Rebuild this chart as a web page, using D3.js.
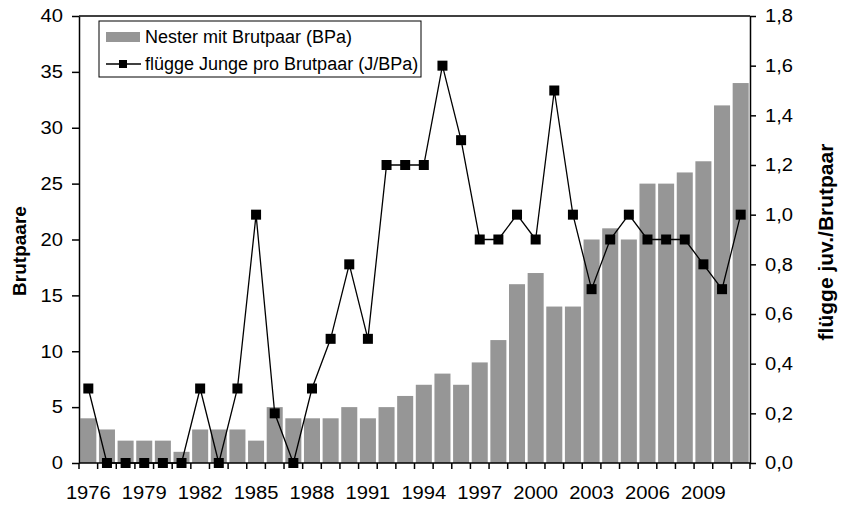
<!DOCTYPE html>
<html>
<head>
<meta charset="utf-8">
<script src="https://d3js.org/d3.v7.min.js"></script>
<style>
	body { margin: 0; background: #fff; }
	text { font-family: "Liberation Sans", Arial, sans-serif; fill: #000; }
</style>
</head>
<body>
<script>

	var years = [1976, 1977, 1978, 1979, 1980, 1981, 1982, 1983, 1984, 1985, 1986, 1987,
		1988, 1989, 1990, 1991, 1992, 1993, 1994, 1995, 1996, 1997, 1998, 1999,
		2000, 2001, 2002, 2003, 2004, 2005, 2006, 2007, 2008, 2009, 2010, 2011];
	// Nester mit Brutpaar (BPa)
	var nester = [4, 3, 2, 2, 2, 1, 3, 3, 3, 2, 5, 4,
		4, 4, 5, 4, 5, 6, 7, 8, 7, 9, 11, 16,
		17, 14, 14, 20, 21, 20, 25, 25, 26, 27, 32, 34];
	// flügge Junge pro Brutpaar (J/BPa)
	var junge = [0.3, 0, 0, 0, 0, 0, 0.3, 0, 0.3, 1.0, 0.2, 0,
		0.3, 0.5, 0.8, 0.5, 1.2, 1.2, 1.2, 1.6, 1.3, 0.9, 0.9, 1.0,
		0.9, 1.5, 1.0, 0.7, 0.9, 1.0, 0.9, 0.9, 0.9, 0.8, 0.7, 1.0];
	var yearLabels = [1976, 1979, 1982, 1985, 1988, 1991, 1994, 1997, 2000, 2003, 2006, 2009];
	var leftTicks = [0, 5, 10, 15, 20, 25, 30, 35, 40];
	var rightTicks = [0, 0.2, 0.4, 0.6, 0.8, 1.0, 1.2, 1.4, 1.6, 1.8];
	var legendLabels = ["Nester mit Brutpaar (BPa)", "flügge Junge pro Brutpaar (J/BPa)"];

	var w = 848, h = 506;
	var plotL = 79, plotR = 750, plotT = 16, plotB = 463;
	var barColor = "#969696";
	var stretch = 1.12;   // tick labels look wider than tall in the original

	var svg = d3.select("body").append("svg")
		.attr("width", w)
		.attr("height", h);

	var x = d3.scaleBand()
		.domain(years)
		.range([plotL, plotR])
		.paddingInner(0.14)
		.paddingOuter(0.07);

	var yL = d3.scaleLinear().domain([0, 40]).range([plotB, plotT]);
	var yR = d3.scaleLinear().domain([0, 1.8]).range([plotB, plotT]);

	// bars
	svg.selectAll("rect.bar")
		.data(nester)
		.enter()
		.append("rect")
		.attr("class", "bar")
		.attr("x", function(d, i) { return x(years[i]); })
		.attr("y", function(d) { return yL(d); })
		.attr("width", x.bandwidth())
		.attr("height", function(d) { return plotB - yL(d); })
		.attr("fill", barColor);

	// top frame line
	svg.append("line")
		.attr("x1", plotL).attr("x2", plotR)
		.attr("y1", plotT).attr("y2", plotT)
		.attr("stroke", "#000").attr("stroke-width", 1.5);

	function stretchText(sel) {
		sel.each(function() {
			var len = this.getComputedTextLength();
			d3.select(this)
				.attr("textLength", len * stretch)
				.attr("lengthAdjust", "spacingAndGlyphs");
		});
	}

	// left axis
	var gL = svg.append("g")
		.attr("class", "axis")
		.attr("transform", "translate(" + plotL + ",0)")
		.call(d3.axisLeft(yL).tickValues(leftTicks).tickSize(7).tickSizeOuter(0).tickPadding(9));

	// right axis
	var gR = svg.append("g")
		.attr("class", "axis")
		.attr("transform", "translate(" + plotR + ",0)")
		.call(d3.axisRight(yR).tickValues(rightTicks).tickSize(6).tickSizeOuter(0).tickPadding(9)
			.tickFormat(function(d) { return d3.format(".1f")(d).replace(".", ","); }));

	// bottom axis: ticks on band boundaries, labels every third year
	var half = x.step() * x.paddingInner() / 2;
	var bounds = years.map(function(d) { return x(d) - half; });
	bounds.push(x(years[years.length - 1]) + x.bandwidth() + half);

	var gB = svg.append("g")
		.attr("class", "axis")
		.attr("transform", "translate(0," + plotB + ")");
	gB.append("line")
		.attr("x1", plotL).attr("x2", plotR)
		.attr("stroke", "#000").attr("stroke-width", 1.5);
	gB.selectAll("line.tk")
		.data(bounds)
		.enter()
		.append("line")
		.attr("class", "tk")
		.attr("x1", function(d) { return d; })
		.attr("x2", function(d) { return d; })
		.attr("y1", 0).attr("y2", 6)
		.attr("stroke", "#000").attr("stroke-width", 1.5);
	gB.selectAll("text")
		.data(yearLabels)
		.enter()
		.append("text")
		.attr("x", function(d) { return x(d) + x.bandwidth() / 2; })
		.attr("y", 36)
		.attr("text-anchor", "middle")
		.text(function(d) { return d; });

	[gL, gR].forEach(function(g) {
		g.select(".domain").attr("stroke", "#000").attr("stroke-width", 1.5);
		g.selectAll(".tick line").attr("stroke", "#000").attr("stroke-width", 1.5);
	});
	svg.selectAll("g.axis text")
		.style("font-size", "18px")
		.attr("font-family", null)
		.attr("font-size", null)
		.attr("fill", "#000");
	stretchText(svg.selectAll("g.axis text"));

	// line + markers
	var line = d3.line()
		.x(function(d, i) { return x(years[i]) + x.bandwidth() / 2; })
		.y(function(d) { return yR(d); });

	svg.append("path")
		.datum(junge)
		.attr("d", line)
		.attr("fill", "none")
		.attr("stroke", "#000")
		.attr("stroke-width", 1.3);

	var ms = 10;
	svg.selectAll("rect.marker")
		.data(junge)
		.enter()
		.append("rect")
		.attr("class", "marker")
		.attr("x", function(d, i) { return x(years[i]) + x.bandwidth() / 2 - ms / 2; })
		.attr("y", function(d) { return yR(d) - ms / 2; })
		.attr("width", ms)
		.attr("height", ms)
		.attr("fill", "#000");

	// axis titles
	svg.append("text")
		.attr("transform", "translate(26,251) rotate(-90)")
		.attr("text-anchor", "middle")
		.style("font-size", "19px")
		.style("font-weight", "bold")
		.text("Brutpaare");

	svg.append("text")
		.attr("transform", "translate(833,242) rotate(-90)")
		.attr("text-anchor", "middle")
		.style("font-size", "21px")
		.style("font-weight", "bold")
		.text("flügge juv./Brutpaar");

	// legend
	var lg = svg.append("g");
	lg.append("rect")
		.attr("x", 99).attr("y", 21)
		.attr("width", 322).attr("height", 56)
		.attr("fill", "#fff")
		.attr("stroke", "#000")
		.attr("stroke-width", 1);
	lg.append("rect")
		.attr("x", 106).attr("y", 32)
		.attr("width", 34).attr("height", 10)
		.attr("fill", barColor);
	lg.append("line")
		.attr("x1", 106).attr("x2", 141)
		.attr("y1", 64).attr("y2", 64)
		.attr("stroke", "#000").attr("stroke-width", 1.3);
	lg.append("rect")
		.attr("x", 119).attr("y", 60)
		.attr("width", 8).attr("height", 8)
		.attr("fill", "#000");
	lg.selectAll("text")
		.data(legendLabels)
		.enter()
		.append("text")
		.attr("x", 145)
		.attr("y", function(d, i) { return i === 0 ? 43 : 70; })
		.style("font-size", "18px")
		.text(function(d) { return d; });

</script>
</body>
</html>
